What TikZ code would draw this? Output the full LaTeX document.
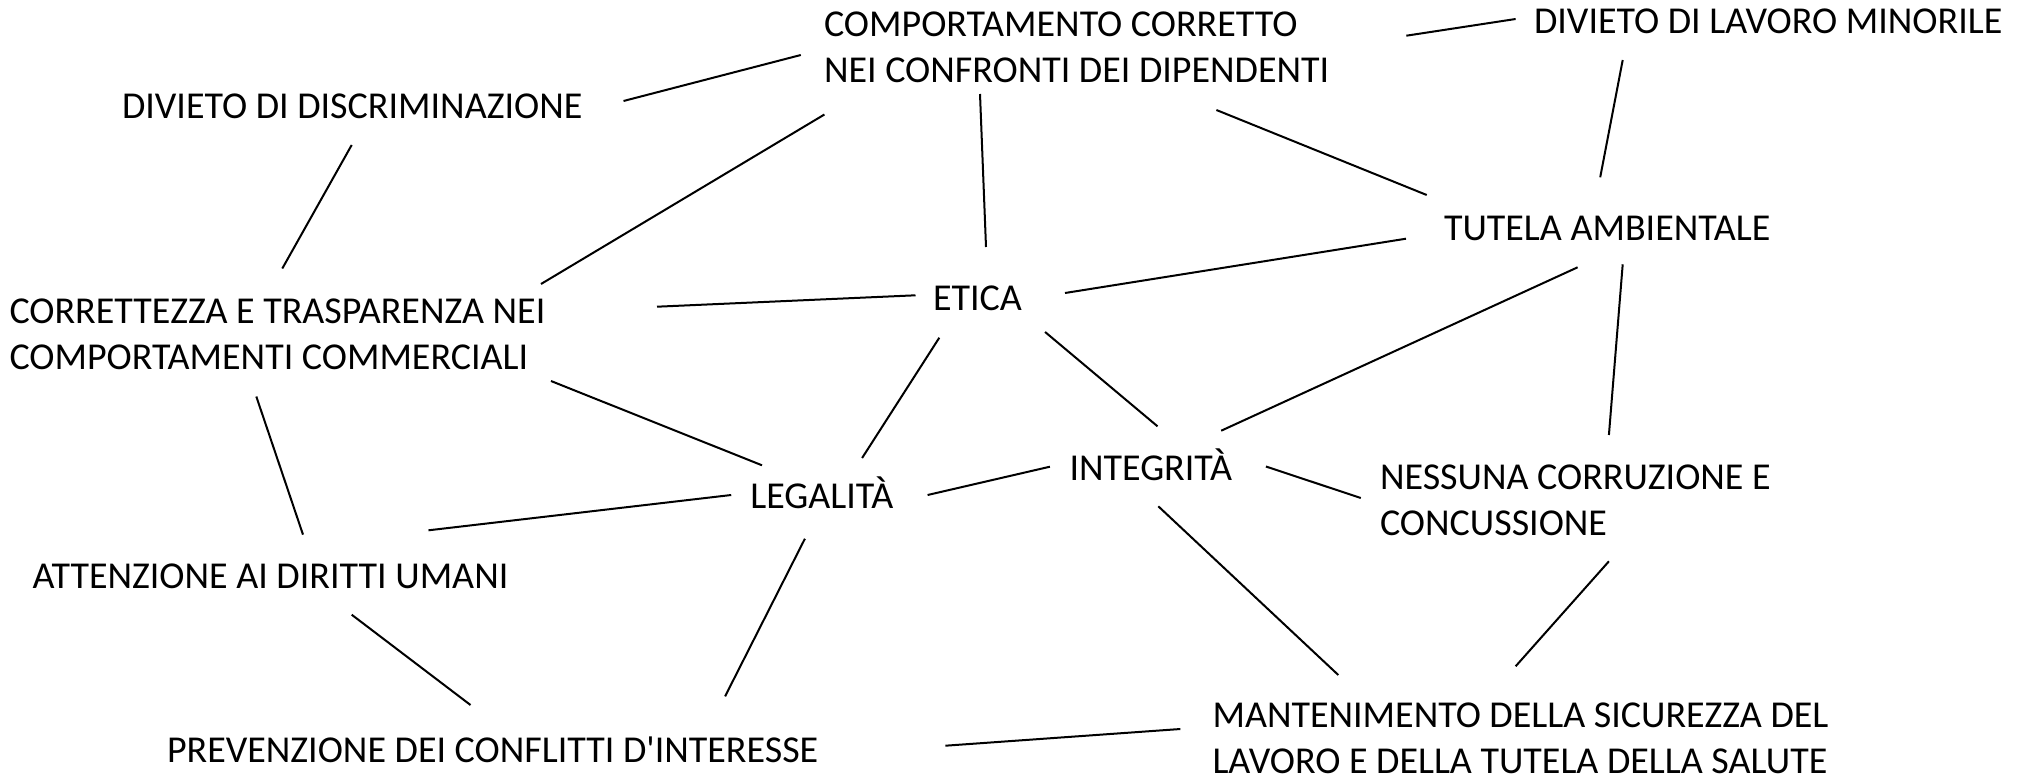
\documentclass[tikz,border=0pt]{standalone}
\usepackage{fontspec}
\setmainfont{Carlito}
\begin{document}
\begin{tikzpicture}[x=1pt,y=-1pt,
  lbl/.style={inner sep=0pt,outer sep=0pt,anchor=base west,font=\fontsize{38}{46.3}\selectfont,text=black},
  link/.style={draw=black,line width=2pt}]
\fill[white] (0,0) rectangle (2020,779);
\useasboundingbox (0,0) rectangle (2020,779);
% nodes
\node[lbl] (comp) at (824,36.5) {\begin{tabular}[t]{@{}l@{}}COMPORTAMENTO CORRETTO\\NEI CONFRONTI DEI DIPENDENTI\end{tabular}};
\node[lbl] (minor) at (1534,33.5) {DIVIETO DI LAVORO MINORILE};
\node[lbl] (discr) at (122,118.5) {DIVIETO DI DISCRIMINAZIONE};
\node[lbl] (tutela) at (1444,240.5) {TUTELA AMBIENTALE};
\node[lbl] (etica) at (933,310) {ETICA};
\node[lbl] (corr) at (9.5,323) {\begin{tabular}[t]{@{}l@{}}CORRETTEZZA E TRASPARENZA NEI\\COMPORTAMENTI COMMERCIALI\end{tabular}};
\node[lbl] (integ) at (1069.5,480) {INTEGRITÀ};
\node[lbl] (ness) at (1380,489) {\begin{tabular}[t]{@{}l@{}}NESSUNA CORRUZIONE E\\CONCUSSIONE\end{tabular}};
\node[lbl] (legal) at (750.3,508) {LEGALITÀ};
\node[lbl] (att) at (32.5,588.5) {ATTENZIONE AI DIRITTI UMANI};
\node[lbl] (prev) at (167,762.5) {PREVENZIONE DEI CONFLITTI D\textquotesingle{}INTERESSE};
\node[lbl] (mant) at (1212.5,727) {\begin{tabular}[t]{@{}l@{}}MANTENIMENTO DELLA SICUREZZA DEL\\LAVORO E DELLA TUTELA DELLA SALUTE\end{tabular}};
% connectors
\draw[link] ([shift={(501.5,-17.5)}]discr.base west) -- ([shift={(-23.2,18.5)}]comp.base west);
\draw[link] ([shift={(582.3,-0.8)}]comp.base west) -- ([shift={(-18.4,-14.5)}]minor.base west);
\draw[link] ([shift={(0.4,78)}]comp.base west) -- ([shift={(531.5,-39)}]corr.base west);
\draw[link] ([shift={(156,57.5)}]comp.base west) -- ([shift={(53,-63)}]etica.base west);
\draw[link] ([shift={(392.4,73.5)}]comp.base west) -- ([shift={(-17.3,-45.5)}]tutela.base west);
\draw[link] ([shift={(88.7,26.5)}]minor.base west) -- ([shift={(156.2,-63.2)}]tutela.base west);
\draw[link] ([shift={(229.7,26.5)}]discr.base west) -- ([shift={(272.8,-54.5)}]corr.base west);
\draw[link] ([shift={(647.5,-16.3)}]corr.base west) -- ([shift={(-17.5,-14.7)}]etica.base west);
\draw[link] ([shift={(132,-17)}]etica.base west) -- ([shift={(-38,-1.8)}]tutela.base west);
\draw[link] ([shift={(133.6,26.8)}]tutela.base west) -- ([shift={(151.7,-49.3)}]integ.base west);
\draw[link] ([shift={(178.7,23.8)}]tutela.base west) -- ([shift={(228.9,-54)}]ness.base west);
\draw[link] ([shift={(6.3,27.7)}]etica.base west) -- ([shift={(111.8,-50)}]legal.base west);
\draw[link] ([shift={(112.1,22)}]etica.base west) -- ([shift={(88,-53.7)}]integ.base west);
\draw[link] ([shift={(541.5,58)}]corr.base west) -- ([shift={(11.7,-42.7)}]legal.base west);
\draw[link] ([shift={(246.8,73.5)}]corr.base west) -- ([shift={(270.5,-53.9)}]att.base west);
\draw[link] ([shift={(177.3,-13)}]legal.base west) -- ([shift={(-19.6,-13.3)}]integ.base west);
\draw[link] ([shift={(196.4,-13.5)}]integ.base west) -- ([shift={(-19.2,9)}]ness.base west);
\draw[link] ([shift={(-19.1,-13)}]legal.base west) -- ([shift={(396,-58.2)}]att.base west);
\draw[link] ([shift={(54.6,30.7)}]legal.base west) -- ([shift={(558.1,-66.2)}]prev.base west);
\draw[link] ([shift={(319.2,26.2)}]att.base west) -- ([shift={(303.5,-57.5)}]prev.base west);
\draw[link] ([shift={(88.8,26.3)}]integ.base west) -- ([shift={(125.8,-52)}]mant.base west);
\draw[link] ([shift={(228.9,72.3)}]ness.base west) -- ([shift={(303.1,-60.7)}]mant.base west);
\draw[link] ([shift={(778.4,-16.8)}]prev.base west) -- ([shift={(-32.1,2)}]mant.base west);
\end{tikzpicture}
\end{document}
